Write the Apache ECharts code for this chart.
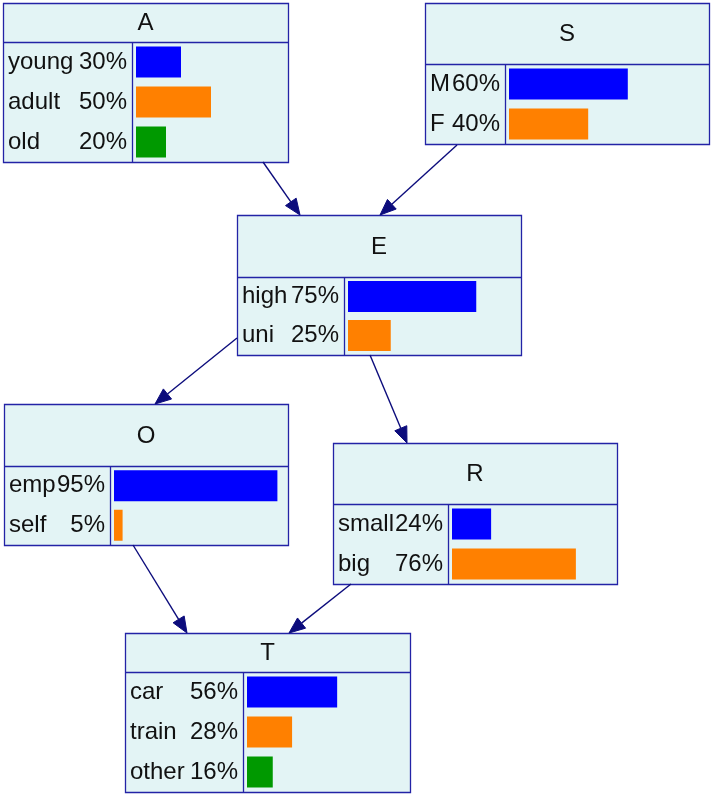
<!DOCTYPE html>
<html><head><meta charset="utf-8">
<script src="https://cdn.jsdelivr.net/npm/echarts@6/dist/echarts.min.js"></script>
<style>html,body{margin:0;padding:0;background:#fff}#c{width:713px;height:796px}</style>
</head><body><div id="c"></div>
<script>
// ---- data ----
const nodeNames = ['A', 'S', 'E', 'O', 'R', 'T'];
const statesA = ['young', 'adult', 'old'];
const valuesA = [30, 50, 20];
const statesS = ['M', 'F'];
const valuesS = [60, 40];
const statesE = ['high', 'uni'];
const valuesE = [75, 25];
const statesO = ['emp', 'self'];
const valuesO = [95, 5];
const statesR = ['small', 'big'];
const valuesR = [24, 76];
const statesT = ['car', 'train', 'other'];
const valuesT = [56, 28, 16];
const edgesFrom = ['A', 'S', 'E', 'E', 'O', 'R'];
const edgesTo   = ['E', 'E', 'O', 'R', 'T', 'T'];

// ---- layout (positions / styles) ----
const layout = {
  A: {x:3,   y:3,   w:285, h:159, head:39, div:132},
  S: {x:425, y:3,   w:284, h:141, head:61, div:505},
  E: {x:237, y:215, w:284, h:140, head:62, div:344},
  O: {x:4,   y:404, w:284, h:141, head:62, div:110},
  R: {x:333, y:443, w:284, h:141, head:61, div:448},
  T: {x:125, y:633, w:285, h:159, head:39, div:243}
};
const edgeGeom = [
  [263,162, 300,215],
  [457,145, 380,215],
  [237,338, 155,404],
  [370,355, 407,443],
  [133,545, 187,633],
  [351,584, 289,633]
];
const states = {A:statesA, S:statesS, E:statesE, O:statesO, R:statesR, T:statesT};
const values = {A:valuesA, S:valuesS, E:valuesE, O:valuesO, R:valuesR, T:valuesT};
const barColors = ['#0000ff', '#ff8000', '#009900'];
const fill = '#e3f4f5';
const border = '#2323a6';
const edgeColor = '#0c0c7c';
const FONT = 'Arial, "Liberation Sans", sans-serif';
const FS = 24;

const grids = [], xAxes = [], yAxes = [], series = [], graphics = [];
nodeNames.forEach((n, i) => {
  const L = layout[n];
  const st = states[n], vals = values[n];
  const top = L.y + L.head;
  const rowsH = L.y + L.h - top;
  const gl = L.div + 4;
  const gw = L.x + L.w - gl - 2;
  grids.push({left: gl, top: top, width: gw, height: rowsH, containLabel: false});
  xAxes.push({type:'value', gridIndex:i, min:0, max:100, show:false});
  // names
  yAxes.push({type:'category', gridIndex:i, data:st, inverse:true, position:'left', offset:0,
    axisLine:{show:false}, axisTick:{show:false}, splitLine:{show:false},
    axisLabel:{align:'left', margin: gl - (L.x + 5), color:'#111', fontSize:FS, fontFamily:FONT}});
  // percents
  const yi2 = yAxes.length;
  yAxes.push({type:'category', gridIndex:i, data:st, inverse:true, position:'left', offset:0,
    axisLine:{show:false}, axisTick:{show:false}, splitLine:{show:false},
    axisLabel:{align:'right', margin: 9, color:'#111', fontSize:FS, fontFamily:FONT,
      formatter:(v, idx) => vals[idx] + '%'}});
  series.push({type:'bar', xAxisIndex:i, yAxisIndex:yi2 - 1, data:vals, barWidth:31,
    itemStyle:{color:(p) => barColors[p.dataIndex % barColors.length]}, silent:true, z:3,
    animation:false});
  // box
  graphics.push({type:'rect', z:0, shape:{x:L.x+0.5, y:L.y+0.5, width:L.w, height:L.h},
    style:{fill:fill, stroke:border, lineWidth:1.3}, silent:true});
  graphics.push({type:'line', z:1, shape:{x1:L.x, y1:L.y+L.head+0.5, x2:L.x+L.w, y2:L.y+L.head+0.5},
    style:{stroke:border, lineWidth:1.3}, silent:true});
  graphics.push({type:'line', z:1, shape:{x1:L.div+0.5, y1:L.y+L.head, x2:L.div+0.5, y2:L.y+L.h},
    style:{stroke:border, lineWidth:1.3}, silent:true});
  graphics.push({type:'text', z:2, x:L.x + L.w/2, y:L.y + L.head/2 + 1,
    style:{text:n, fill:'#111', font: FS + 'px ' + FONT, textAlign:'center', textVerticalAlign:'middle'}, silent:true});
});
// edges
edgeGeom.forEach(g => {
  const [x1,y1,x2,y2] = g;
  const dx = x2-x1, dy = y2-y1, len = Math.hypot(dx,dy);
  const ux = dx/len, uy = dy/len;
  const al = 16, aw = 6.5;
  const bx = x2 - ux*al, by = y2 - uy*al;
  graphics.push({type:'line', z:5, shape:{x1:x1, y1:y1, x2:bx, y2:by},
    style:{stroke:edgeColor, lineWidth:1.4}, silent:true});
  graphics.push({type:'polygon', z:5, shape:{points:[[x2,y2],[bx - uy*aw, by + ux*aw],[bx + uy*aw, by - ux*aw]]},
    style:{fill:edgeColor, stroke:edgeColor, lineWidth:1}, silent:true});
});

const chart = echarts.init(document.getElementById('c'), null, {renderer:'canvas'});
chart.setOption({
  animation:false,
  backgroundColor:'#ffffff',
  grid: grids, xAxis: xAxes, yAxis: yAxes, series: series,
  graphic: graphics
});
</script></body></html>
